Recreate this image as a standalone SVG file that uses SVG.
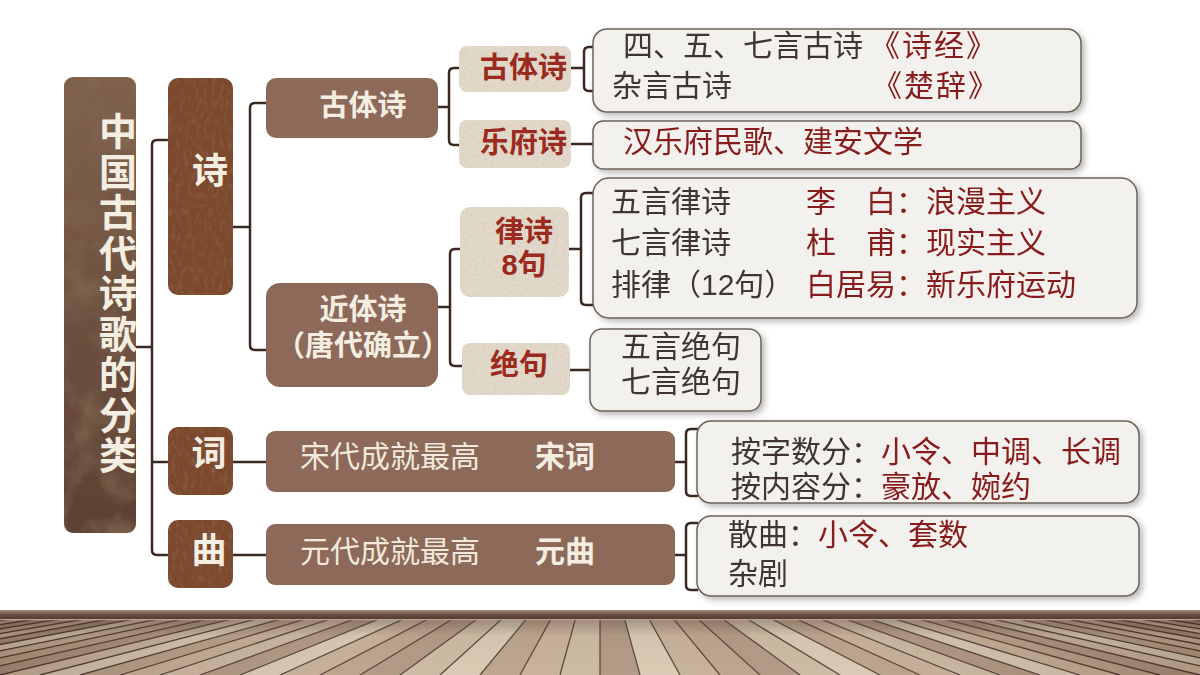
<svg xmlns="http://www.w3.org/2000/svg" width="1200" height="675" viewBox="0 0 1200 675">
<defs>
<style>
text{font-family:"Liberation Sans","Noto Sans CJK SC",sans-serif}
.cream{fill:#f4ede2;font-weight:700}
.creamn{fill:#f1e9dc}
.red{fill:#9b2a20;font-weight:700}
.dk{fill:#3f3531}
.rd{fill:#861b1b}
.conn path{fill:none;stroke:#3b2820;stroke-width:2.5;stroke-linecap:round}
.rbox{fill:#f3f1ee;stroke:#6e6258;stroke-width:1.5}
.tan{fill:#e2d9ca}
.rust{fill:#7b4a2e}
.mid{fill:#8d6959}
</style>
<linearGradient id="titleGrad" x1="0" y1="0" x2="0" y2="1">
<stop offset="0" stop-color="#7f624c"/>
<stop offset="0.5" stop-color="#6e5140"/>
<stop offset="1" stop-color="#5e4133"/>
</linearGradient>
<linearGradient id="trimGrad" x1="0" y1="0" x2="0" y2="1">
<stop offset="0" stop-color="#a08a7e"/>
<stop offset="0.45" stop-color="#6a5044"/>
<stop offset="1" stop-color="#4e372d"/>
</linearGradient>
<linearGradient id="floorShade" x1="0" y1="0" x2="0" y2="1">
<stop offset="0" stop-color="#3c281e" stop-opacity="0.4"/>
<stop offset="0.3" stop-color="#3c281e" stop-opacity="0.05"/>
<stop offset="1" stop-color="#3c281e" stop-opacity="0"/>
</linearGradient>
<linearGradient id="floorSide" x1="0" y1="0" x2="1" y2="0">
<stop offset="0" stop-color="#3c281e" stop-opacity="0.2"/>
<stop offset="0.3" stop-color="#ffffff" stop-opacity="0.1"/>
<stop offset="0.7" stop-color="#ffffff" stop-opacity="0.1"/>
<stop offset="1" stop-color="#3c281e" stop-opacity="0.2"/>
</linearGradient>
<clipPath id="floorClip"><rect x="0" y="619" width="1200" height="56"/></clipPath>
<filter id="mottle" x="0" y="0" width="1" height="1">
<feTurbulence type="fractalNoise" baseFrequency="0.03 0.025" numOctaves="4" seed="7" result="n"/>
<feColorMatrix in="n" type="matrix" values="0 0 0 0 0.25 0 0 0 0 0.16 0 0 0 0 0.1 1.4 0 0 0 -0.6" result="blot"/>
<feComposite in="blot" in2="SourceGraphic" operator="in" result="b2"/>
<feMerge><feMergeNode in="SourceGraphic"/><feMergeNode in="b2"/></feMerge>
</filter>
<filter id="grain" x="0" y="0" width="1" height="1">
<feTurbulence type="fractalNoise" baseFrequency="0.25 0.12" numOctaves="3" seed="3" result="n"/>
<feColorMatrix in="n" type="matrix" values="0 0 0 0 0.3 0 0 0 0 0.16 0 0 0 0 0.08 1 0 0 0 -0.45" result="g"/>
<feComposite in="g" in2="SourceGraphic" operator="in" result="g2"/>
<feMerge><feMergeNode in="SourceGraphic"/><feMergeNode in="g2"/></feMerge>
</filter>
<filter id="speck" x="0" y="0" width="1" height="1">
<feTurbulence type="fractalNoise" baseFrequency="0.9" numOctaves="2" seed="5" result="n"/>
<feColorMatrix in="n" type="matrix" values="0 0 0 0 0.55 0 0 0 0 0.48 0 0 0 0 0.4 2 0 0 0 -1.05" result="s"/>
<feComposite in="s" in2="SourceGraphic" operator="in" result="s2"/>
<feMerge><feMergeNode in="SourceGraphic"/><feMergeNode in="s2"/></feMerge>
</filter>
<filter id="shadow" x="-5%" y="-15%" width="115%" height="140%">
<feDropShadow dx="3" dy="3" stdDeviation="3" flood-color="#000" flood-opacity="0.28"/>
</filter>
</defs>

<rect width="1200" height="675" fill="#ffffff"/>

<!-- floor -->
<g id="floor">
<rect x="0" y="610" width="1200" height="10" fill="url(#trimGrad)"/>
<g clip-path="url(#floorClip)">
<rect x="0" y="619" width="1200" height="56" fill="#bca48b"/>
<path fill="#c9b49b" d="M600,530L-400,675L-360,675Z M600,530L-240,675L-200,675Z M600,530L0,675L40,675Z M600,530L160,675L200,675Z M600,530L400,675L440,675Z M600,530L560,675L600,675Z M600,530L800,675L840,675Z M600,530L960,675L1000,675Z M600,530L1200,675L1240,675Z M600,530L1360,675L1400,675Z"/>
<path fill="#d6c5ad" d="M600,530L-360,675L-320,675Z M600,530L-160,675L-120,675Z M600,530L40,675L80,675Z M600,530L240,675L280,675Z M600,530L440,675L480,675Z M600,530L640,675L680,675Z M600,530L840,675L880,675Z M600,530L1040,675L1080,675Z M600,530L1240,675L1280,675Z M600,530L1440,675L1480,675Z"/>
<path fill="#b69d83" d="M600,530L-320,675L-280,675Z M600,530L-80,675L-40,675Z M600,530L80,675L120,675Z M600,530L320,675L360,675Z M600,530L480,675L520,675Z M600,530L720,675L760,675Z M600,530L880,675L920,675Z M600,530L1120,675L1160,675Z M600,530L1280,675L1320,675Z M600,530L1520,675L1560,675Z"/>
<path fill="#c2ab91" d="M600,530L-280,675L-240,675Z M600,530L-120,675L-80,675Z M600,530L120,675L160,675Z M600,530L280,675L320,675Z M600,530L520,675L560,675Z M600,530L680,675L720,675Z M600,530L920,675L960,675Z M600,530L1080,675L1120,675Z M600,530L1320,675L1360,675Z M600,530L1480,675L1520,675Z"/>
<path fill="#ab917a" d="M600,530L-200,675L-160,675Z M600,530L-40,675L0,675Z M600,530L200,675L240,675Z M600,530L360,675L400,675Z M600,530L600,675L640,675Z M600,530L760,675L800,675Z M600,530L1000,675L1040,675Z M600,530L1160,675L1200,675Z M600,530L1400,675L1440,675Z M600,530L1560,675L1600,675Z"/>
<path fill="none" stroke="#4a372c" stroke-width="1.3" d="M600,530L-400,675 M600,530L-360,675 M600,530L-320,675 M600,530L-280,675 M600,530L-240,675 M600,530L-200,675 M600,530L-160,675 M600,530L-120,675 M600,530L-80,675 M600,530L-40,675 M600,530L0,675 M600,530L40,675 M600,530L80,675 M600,530L120,675 M600,530L160,675 M600,530L200,675 M600,530L240,675 M600,530L280,675 M600,530L320,675 M600,530L360,675 M600,530L400,675 M600,530L440,675 M600,530L480,675 M600,530L520,675 M600,530L560,675 M600,530L600,675 M600,530L640,675 M600,530L680,675 M600,530L720,675 M600,530L760,675 M600,530L800,675 M600,530L840,675 M600,530L880,675 M600,530L920,675 M600,530L960,675 M600,530L1000,675 M600,530L1040,675 M600,530L1080,675 M600,530L1120,675 M600,530L1160,675 M600,530L1200,675 M600,530L1240,675 M600,530L1280,675 M600,530L1320,675 M600,530L1360,675 M600,530L1400,675 M600,530L1440,675 M600,530L1480,675 M600,530L1520,675 M600,530L1560,675 M600,530L1600,675"/>
<rect x="0" y="619" width="1200" height="56" fill="url(#floorShade)"/>
<rect x="0" y="619" width="1200" height="56" fill="url(#floorSide)"/>
</g>
<rect x="0" y="619" width="1200" height="1.2" fill="#b9a393"/>
</g>

<!-- connectors -->
<g id="connectors" class="conn">
<path d="M167,140 H157 Q152,140 152,145 V550 Q152,555 157,555 H167 M137,347 H152 M152,462 H167"/>
<path d="M266,103 H255 Q250,103 250,108 V345 Q250,350 255,350 H266 M233,227 H250"/>
<path d="M233,462 H266 M233,555 H266"/>
<path d="M459,68 H454 Q449,68 449,73 V140 Q449,145 454,145 H459 M438,107 H449"/>
<path d="M593,47 H589 Q584,47 584,52 V86 Q584,91 589,91 H593 M571,68 H584"/>
<path d="M571,144 H593"/>
<path d="M460,249 H455 Q450,249 450,254 V361 Q450,366 455,366 H462 M438,307 H450"/>
<path d="M594,193 H586 Q581,193 581,198 V300 Q581,305 586,305 H594 M569,249 H581"/>
<path d="M570,370 H590"/>
<path d="M697,429 H691 Q686,429 686,434 V491 Q686,496 691,496 H697 M675,462 H686"/>
<path d="M697,523 H691 Q686,523 686,528 V585 Q686,590 691,590 H697 M675,555 H686"/>
</g>

<!-- title -->
<g id="node-title">
<rect x="64" y="77" width="72" height="456" rx="9" fill="url(#titleGrad)" filter="url(#mottle)"/>
<text class="cream" font-size="38" text-anchor="middle"><tspan x="118" y="145">中</tspan><tspan x="118" y="185.5">国</tspan><tspan x="118" y="226">古</tspan><tspan x="118" y="266.5">代</tspan><tspan x="118" y="307">诗</tspan><tspan x="118" y="347.5">歌</tspan><tspan x="118" y="388">的</tspan><tspan x="118" y="428.5">分</tspan><tspan x="118" y="469">类</tspan></text>
</g>

<!-- level 1 -->
<g id="node-shi">
<rect class="rust" x="168" y="78" width="65" height="217" rx="10" filter="url(#grain)"/>
<text class="cream" x="210" y="184" font-size="36" text-anchor="middle">诗</text>
</g>
<g id="node-ci">
<rect class="rust" x="168" y="427" width="65" height="68" rx="10" filter="url(#grain)"/>
<text class="cream" x="209" y="466" font-size="35" text-anchor="middle">词</text>
</g>
<g id="node-qu">
<rect class="rust" x="168" y="520" width="65" height="68" rx="10" filter="url(#grain)"/>
<text class="cream" x="209" y="563" font-size="35" text-anchor="middle">曲</text>
</g>

<!-- level 2 -->
<g id="node-gutishi">
<rect class="mid" x="266" y="78" width="172" height="60" rx="10"/>
<text class="cream" x="363" y="116" font-size="29" text-anchor="middle">古体诗</text>
</g>
<g id="node-jintishi">
<rect class="mid" x="266" y="283" width="172" height="104" rx="14"/>
<text class="cream" x="363" y="320" font-size="29" text-anchor="middle">近体诗</text>
<text class="cream" x="276" y="356" font-size="29">（唐代确立）</text>
</g>
<g id="node-songci">
<rect class="mid" x="266" y="431" width="409" height="61" rx="9"/>
<text class="creamn" x="300" y="467" font-size="30">宋代成就最高</text>
<text class="cream" x="535" y="467" font-size="30">宋词</text>
</g>
<g id="node-yuanqu">
<rect class="mid" x="266" y="524" width="409" height="61" rx="9"/>
<text class="creamn" x="300" y="562" font-size="30">元代成就最高</text>
<text class="cream" x="535" y="562" font-size="30">元曲</text>
</g>

<!-- level 3 -->
<g id="node-gutishi2">
<rect class="tan" x="459" y="46" width="112" height="46" rx="8" filter="url(#speck)"/>
<text class="red" x="480" y="78" font-size="29">古体诗</text>
</g>
<g id="node-yuefushi">
<rect class="tan" x="459" y="120" width="112" height="48" rx="8" filter="url(#speck)"/>
<text class="red" x="480" y="153" font-size="29">乐府诗</text>
</g>
<g id="node-lvshi">
<rect class="tan" x="460" y="207" width="109" height="90" rx="10" filter="url(#speck)"/>
<text class="red" x="524" y="242" font-size="29" text-anchor="middle">律诗</text>
<text class="red" x="524" y="275" font-size="29" text-anchor="middle">8句</text>
</g>
<g id="node-jueju">
<rect class="tan" x="462" y="343" width="108" height="52" rx="8" filter="url(#speck)"/>
<text class="red" x="519" y="375" font-size="29" text-anchor="middle">绝句</text>
</g>

<!-- detail boxes -->
<g id="node-gushi-detail" filter="url(#shadow)">
<rect class="rbox" x="593" y="29" width="488" height="83" rx="14"/>
<text font-size="30" y="56"><tspan class="dk" x="623">四、五、七言古诗</tspan><tspan class="rd" x="870" letter-spacing="2">《诗经》</tspan></text>
<text font-size="30" y="96"><tspan class="dk" x="612">杂言古诗</tspan><tspan class="rd" x="872" letter-spacing="2">《楚辞》</tspan></text>
</g>
<g id="node-yuefu-detail" filter="url(#shadow)">
<rect class="rbox" x="593" y="121" width="488" height="48" rx="10"/>
<text class="rd" x="623" y="152" font-size="30">汉乐府民歌、建安文学</text>
</g>
<g id="node-lvshi-detail" filter="url(#shadow)">
<rect class="rbox" x="593" y="178" width="544" height="140" rx="16"/>
<text font-size="30" y="212"><tspan class="dk" x="611">五言律诗</tspan><tspan class="rd" x="806">李　白：浪漫主义</tspan></text>
<text font-size="30" y="253"><tspan class="dk" x="611">七言律诗</tspan><tspan class="rd" x="806">杜　甫：现实主义</tspan></text>
<text font-size="30" y="295"><tspan class="dk" x="611">排律（12句）</tspan><tspan class="rd" x="806">白居易：新乐府运动</tspan></text>
</g>
<g id="node-jueju-detail" filter="url(#shadow)">
<rect class="rbox" x="590" y="329" width="171" height="82" rx="12"/>
<text class="dk" x="621" y="357" font-size="30">五言绝句</text>
<text class="dk" x="621" y="392" font-size="30">七言绝句</text>
</g>
<g id="node-ci-detail" filter="url(#shadow)">
<rect class="rbox" x="697" y="421" width="442" height="82" rx="14"/>
<text font-size="30" y="462"><tspan class="dk" x="731">按字数分：</tspan><tspan class="rd" x="881">小令、中调、长调</tspan></text>
<text font-size="30" y="497"><tspan class="dk" x="731">按内容分：</tspan><tspan class="rd" x="881">豪放、婉约</tspan></text>
</g>
<g id="node-qu-detail" filter="url(#shadow)">
<rect class="rbox" x="697" y="516" width="442" height="80" rx="14"/>
<text font-size="30" y="545"><tspan class="dk" x="728">散曲：</tspan><tspan class="rd" x="818">小令、套数</tspan></text>
<text class="dk" x="728" y="584" font-size="30">杂剧</text>
</g>
</svg>
